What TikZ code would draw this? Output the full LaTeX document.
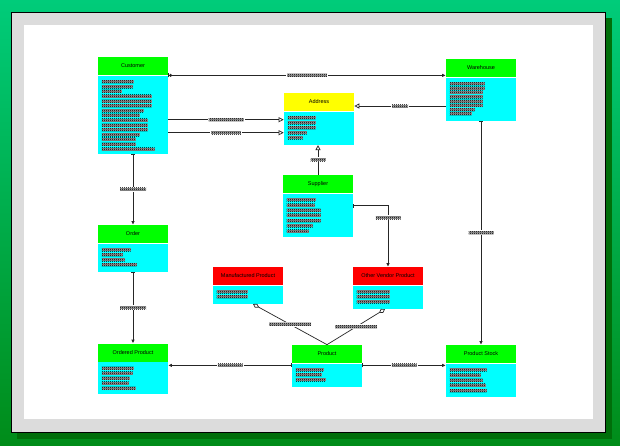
\documentclass[tikz,border=0pt]{standalone}
\usepackage{fontspec}
\setsansfont{Liberation Sans}
\usetikzlibrary{arrows.meta,patterns}
\pgfdeclarepatternformonly{finecheck}{\pgfpointorigin}{\pgfqpoint{2pt}{2pt}}{\pgfqpoint{2pt}{2pt}}{%
  \pgfpathrectangle{\pgfpointorigin}{\pgfqpoint{1pt}{1pt}}%
  \pgfpathrectangle{\pgfqpoint{1pt}{1pt}}{\pgfqpoint{1pt}{1pt}}%
  \pgfusepath{fill}}
\definecolor{bgtop}{RGB}{0,204,122}
\definecolor{bgbot}{RGB}{0,140,25}
\definecolor{shadowgreen}{RGB}{0,110,10}
\definecolor{framegray}{RGB}{220,220,220}
\definecolor{bodycyan}{RGB}{0,255,255}
\definecolor{headgreen}{RGB}{0,255,0}
\definecolor{headyellow}{RGB}{255,255,0}
\definecolor{headred}{RGB}{255,0,0}
% greeked attribute rows of an entity body
\newcommand{\greekrows}[3]{%
  \foreach \w [count=\i from 0] in {#3}
    \fill[preaction={fill=black!40}, pattern=finecheck]
      ([shift={(4,{5+#2*\i})}]#1.north west) rectangle +(\w,3);}

\begin{document}
\begin{tikzpicture}[x=1pt, y=-1pt, line width=0.7pt,
  ehead/.style={minimum width=70pt, minimum height=18pt, inner sep=0,
    font=\sffamily\fontsize{5.5}{6}\selectfont},
  ebody/.style={fill=bodycyan, minimum width=70pt, anchor=north, inner sep=0},
  glabel/.style={minimum width=#1, minimum height=3pt, inner sep=0, pattern=finecheck,
    preaction={draw=white, line width=2pt, postaction={fill=black!35}}},
  rel/.style={draw=black!85, arrows={Bar[width=4pt]}-{Latex[length=3.5pt,width=3.5pt]}},
  crel/.style={draw=black!85, arrows={Bar[width=4pt]Circle[open,length=3pt,width=3pt]}-{Latex[length=3.5pt,width=3.5pt]}},
  isa/.style={draw=black!85, arrows=-{Triangle[open,length=5pt,width=5pt]}},
  agg/.style={draw=black!85, arrows={Diamond[open,length=7pt,width=4.5pt]}-}]

  \useasboundingbox (0,0) rectangle (620,445);
  \shade[top color=bgtop, bottom color=bgbot] (0,0) rectangle (620,445);
  \fill[shadowgreen] (17,18) rectangle (612,439);
  \filldraw[fill=framegray, draw=black, line width=1.2pt] (11.5,12.5) rectangle (605.5,432.5);
  \fill[white] (24,25) rectangle (593,419);

  % entities
  \node[ehead, fill=headgreen] (cust-h) at (133,66) {Customer};
  \node[ebody, minimum height=78pt] (cust-b) at (cust-h.south) {};
  \greekrows{cust-b}{4.8}{32,31,20,50,50,50,42,38,46,46,46,38,34,34,53}

  \node[ehead, fill=headyellow] (addr-h) at (319,102) {Address};
  \node[ebody, minimum height=33pt] (addr-b) at (addr-h.south) {};
  \greekrows{addr-b}{5}{28,28,28,19,15}

  \node[ehead, fill=headgreen] (ware-h) at (481,68) {Warehouse};
  \node[ebody, minimum height=43pt] (ware-b) at (ware-h.south) {};
  \greekrows{ware-b}{4.3}{35,35,33,33,33,33,25,22}

  \node[ehead, fill=headgreen] (supp-h) at (318,184) {Supplier};
  \node[ebody, minimum height=43pt] (supp-b) at (supp-h.south) {};
  \greekrows{supp-b}{5.2}{29,28,34,34,34,26,22}

  \node[ehead, fill=headgreen] (order-h) at (133,234) {Order};
  \node[ebody, minimum height=28pt] (order-b) at (order-h.south) {};
  \greekrows{order-b}{5}{29,21,23,35}

  \node[ehead, fill=headred] (manu-h) at (248,276) {Manufactured Product};
  \node[ebody, minimum height=18pt] (manu-b) at (manu-h.south) {};
  \greekrows{manu-b}{5}{31,31}

  \node[ehead, fill=headred] (other-h) at (388,276) {Other Vendor Product};
  \node[ebody, minimum height=23pt] (other-b) at (other-h.south) {};
  \greekrows{other-b}{5}{33,33,33}

  \node[ehead, fill=headgreen] (ordp-h) at (133,352.5) {Ordered Product};
  \node[ebody, minimum height=31.5pt] (ordp-b) at (ordp-h.south) {};
  \greekrows{ordp-b}{5}{32,31,28,27,34}

  \node[ehead, fill=headgreen] (prod-h) at (327,354) {Product};
  \node[ebody, minimum height=23pt] (prod-b) at (prod-h.south) {};
  \greekrows{prod-b}{5}{28,26,30}

  \node[ehead, fill=headgreen] (stock-h) at (481,354) {Product Stock};
  \node[ebody, minimum height=33pt] (stock-b) at (stock-h.south) {};
  \greekrows{stock-b}{5.2}{37,31,33,36,37}

  % generalisations
  \coordinate (a1) at ([yshift=8.5pt]addr-b.west);
  \coordinate (a2) at ([yshift=-4.5pt]addr-b.west);
  \coordinate (a3) at ([yshift=-4pt]addr-h.east);
  \draw[isa] (cust-b.east |- a1) -- node[glabel=35pt]{} (a1);
  \draw[isa] (cust-b.east |- a2) -- node[glabel=30pt]{} (a2);
  \draw[isa] (ware-b.west |- a3) -- node[glabel=16pt]{} (a3);
  \draw[isa] (supp-h.north) -- node[glabel=15pt]{} (supp-h.north |- addr-b.south);

  % relationships
  \draw[crel] (cust-b.north east) -- node[glabel=40pt]{} (cust-b.north east -| ware-h.west);
  \draw[rel] (cust-b.south) -- node[glabel=26pt]{} (order-h.north);
  \draw[rel] (order-b.south) -- node[glabel=26pt]{} (ordp-h.north);
  \draw[rel] ([yshift=9.5pt]supp-b.east) -| node[glabel=25pt, pos=0.6]{} (other-h.north);
  \draw[rel] (ware-b.south) -- node[glabel=25pt]{} (stock-h.north);
  \coordinate (p1) at ([yshift=-2pt]prod-b.north west);
  \coordinate (p2) at ([yshift=-2pt]prod-b.north east);
  \draw[rel] (p1) -- node[glabel=25pt]{} (ordp-b.east |- p1);
  \draw[rel] (p2) -- node[glabel=25pt]{} (stock-b.west |- p2);

  % aggregations
  \draw[agg] ([xshift=5pt]manu-b.south) -- node[glabel=42pt]{} (prod-h.north);
  \draw[agg] ([xshift=-3pt]other-b.south) -- node[glabel=42pt]{} (prod-h.north);
\end{tikzpicture}
\end{document}
